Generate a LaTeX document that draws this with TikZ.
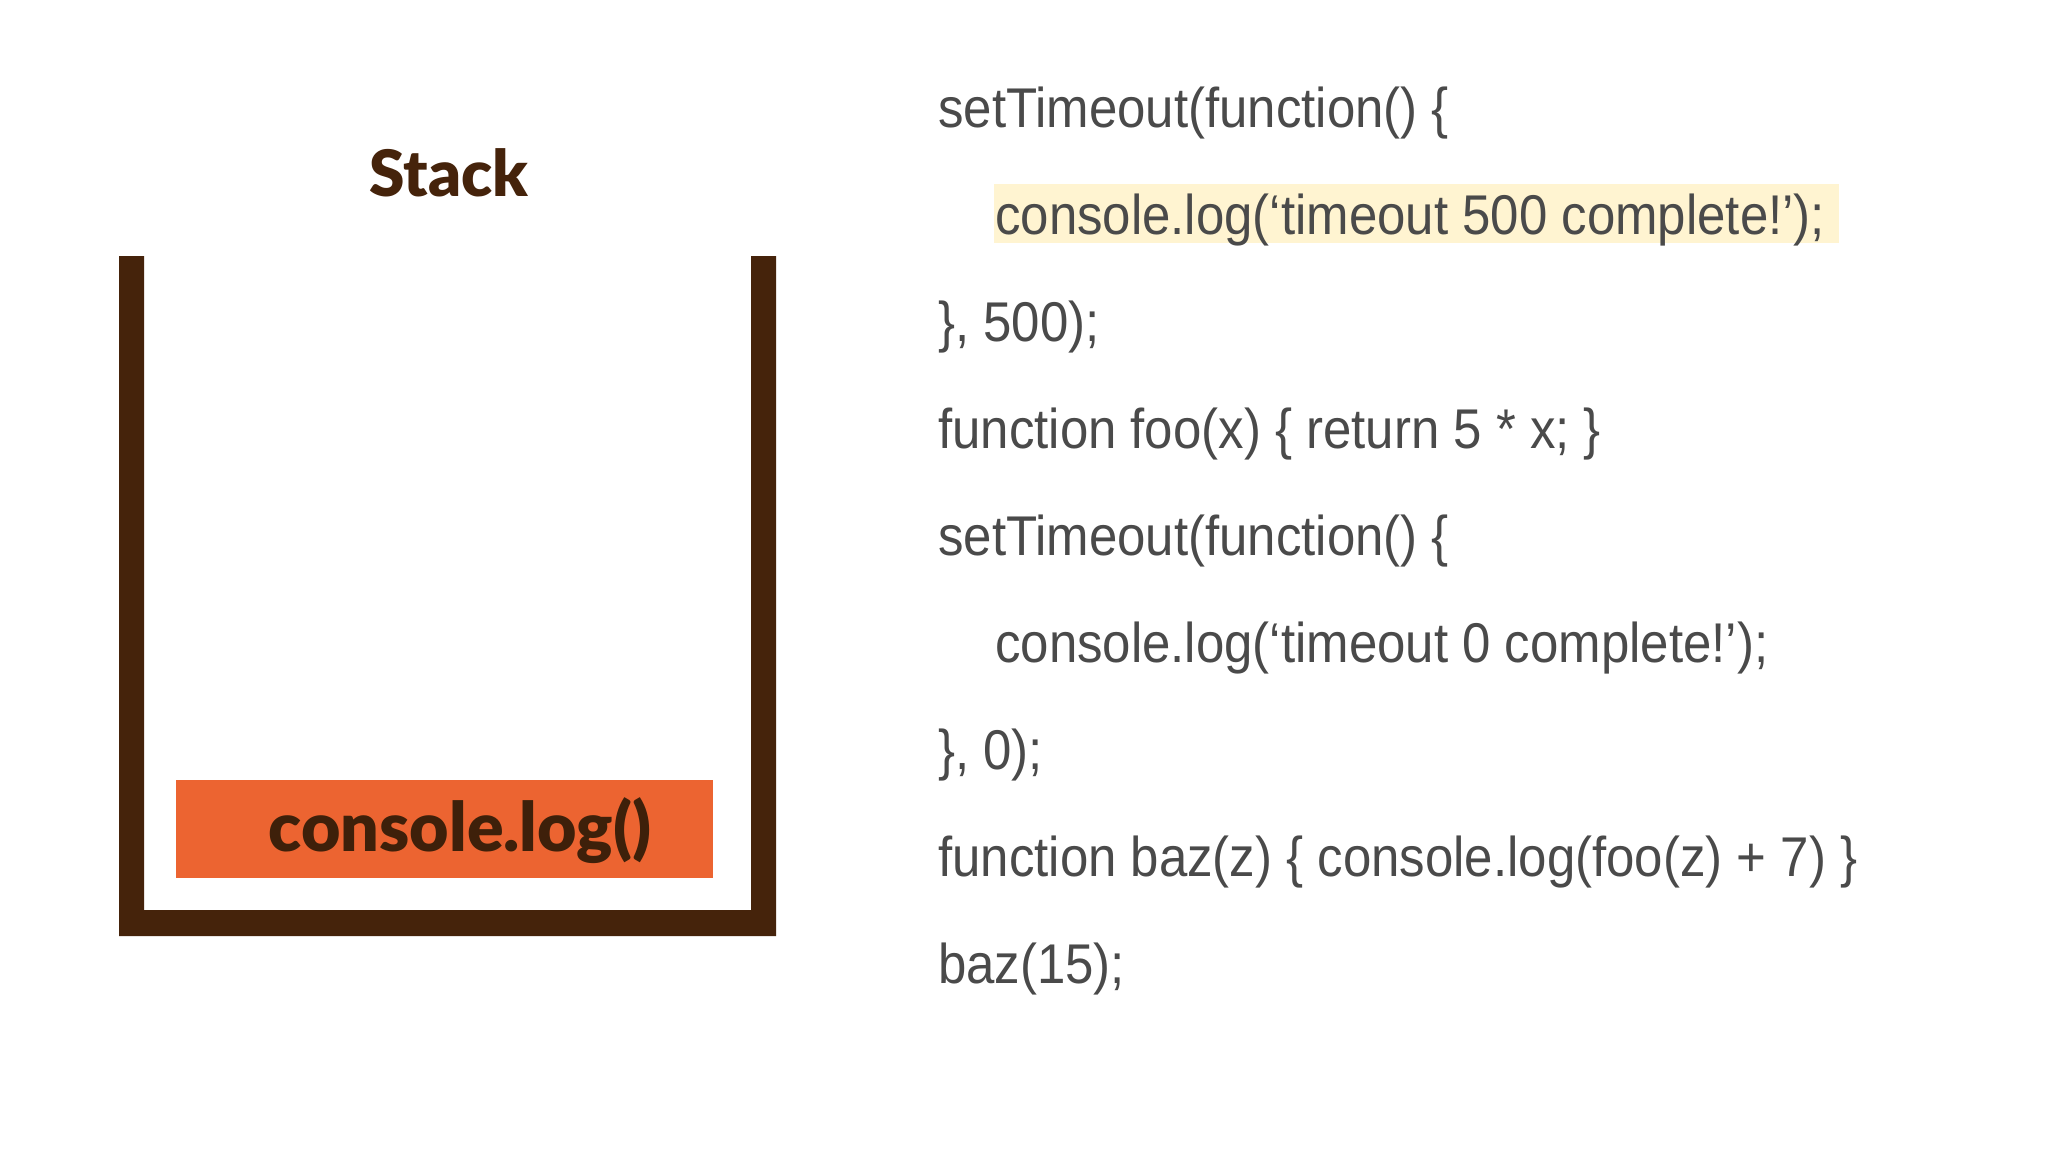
\documentclass[tikz,border=0pt]{standalone}
\usepackage{fontspec}
\setmainfont{Liberation Sans}
\newfontfamily\codefont{Liberation Sans}[FakeStretch=0.91]
\newfontfamily\latofont{Lato Black}
\definecolor{stackbrown}{HTML}{45230B}
\definecolor{stackorange}{HTML}{EC6431}
\definecolor{codegray}{HTML}{4A4A4A}
\definecolor{hilite}{HTML}{FFF4D1}
\tikzset{
  codeline/.style={anchor=base west, inner sep=0pt, text=codegray,
    font=\codefont\fontsize{56}{60}\selectfont},
  stacktitle/.style={anchor=base, inner sep=0pt, text=stackbrown,
    font=\latofont\fontsize{64}{70}\selectfont},
  frametext/.style={anchor=base, inner sep=0pt, text=stackbrown!90!black,
    font=\latofont\fontsize{68}{72}\selectfont}
}
\begin{document}
\begin{tikzpicture}[x=1pt,y=-1pt]
\useasboundingbox (0,0) rectangle (2048,1152);
\fill[white] (0,0) rectangle (2048,1152);
% stack container
\fill[stackbrown] (119,256) -- (144,256) -- (144,910) -- (751,910) -- (751,256)
  -- (776,256) -- (776,936) -- (119,936) -- cycle;
\node[stacktitle] (title) at (449,196) {Stack};
% frame on stack
\fill[stackorange] (176,780) rectangle (713,878);
\node[frametext] (frame) at (460,851) {console.log()};
% highlight
\fill[hilite] (994,184) rectangle (1839,243);
% code
\node[codeline] (l1) at (938,127) {setTimeout(function() \{};
\node[codeline] (l2) at (995,234) {console.log(‘timeout 500 complete!’);};
\node[codeline] (l3) at (938,341) {\}, 500);};
\node[codeline] (l4) at (938,448) {function foo(x) \{ return 5 * x; \}};
\node[codeline] (l5) at (938,555) {setTimeout(function() \{};
\node[codeline] (l6) at (995,662) {console.log(‘timeout 0 complete!’);};
\node[codeline] (l7) at (938,769) {\}, 0);};
\node[codeline] (l8) at (938,876) {function baz(z) \{ console.log(foo(z) + 7) \}};
\node[codeline] (l9) at (938,983) {baz(15);};
\end{tikzpicture}
\end{document}
